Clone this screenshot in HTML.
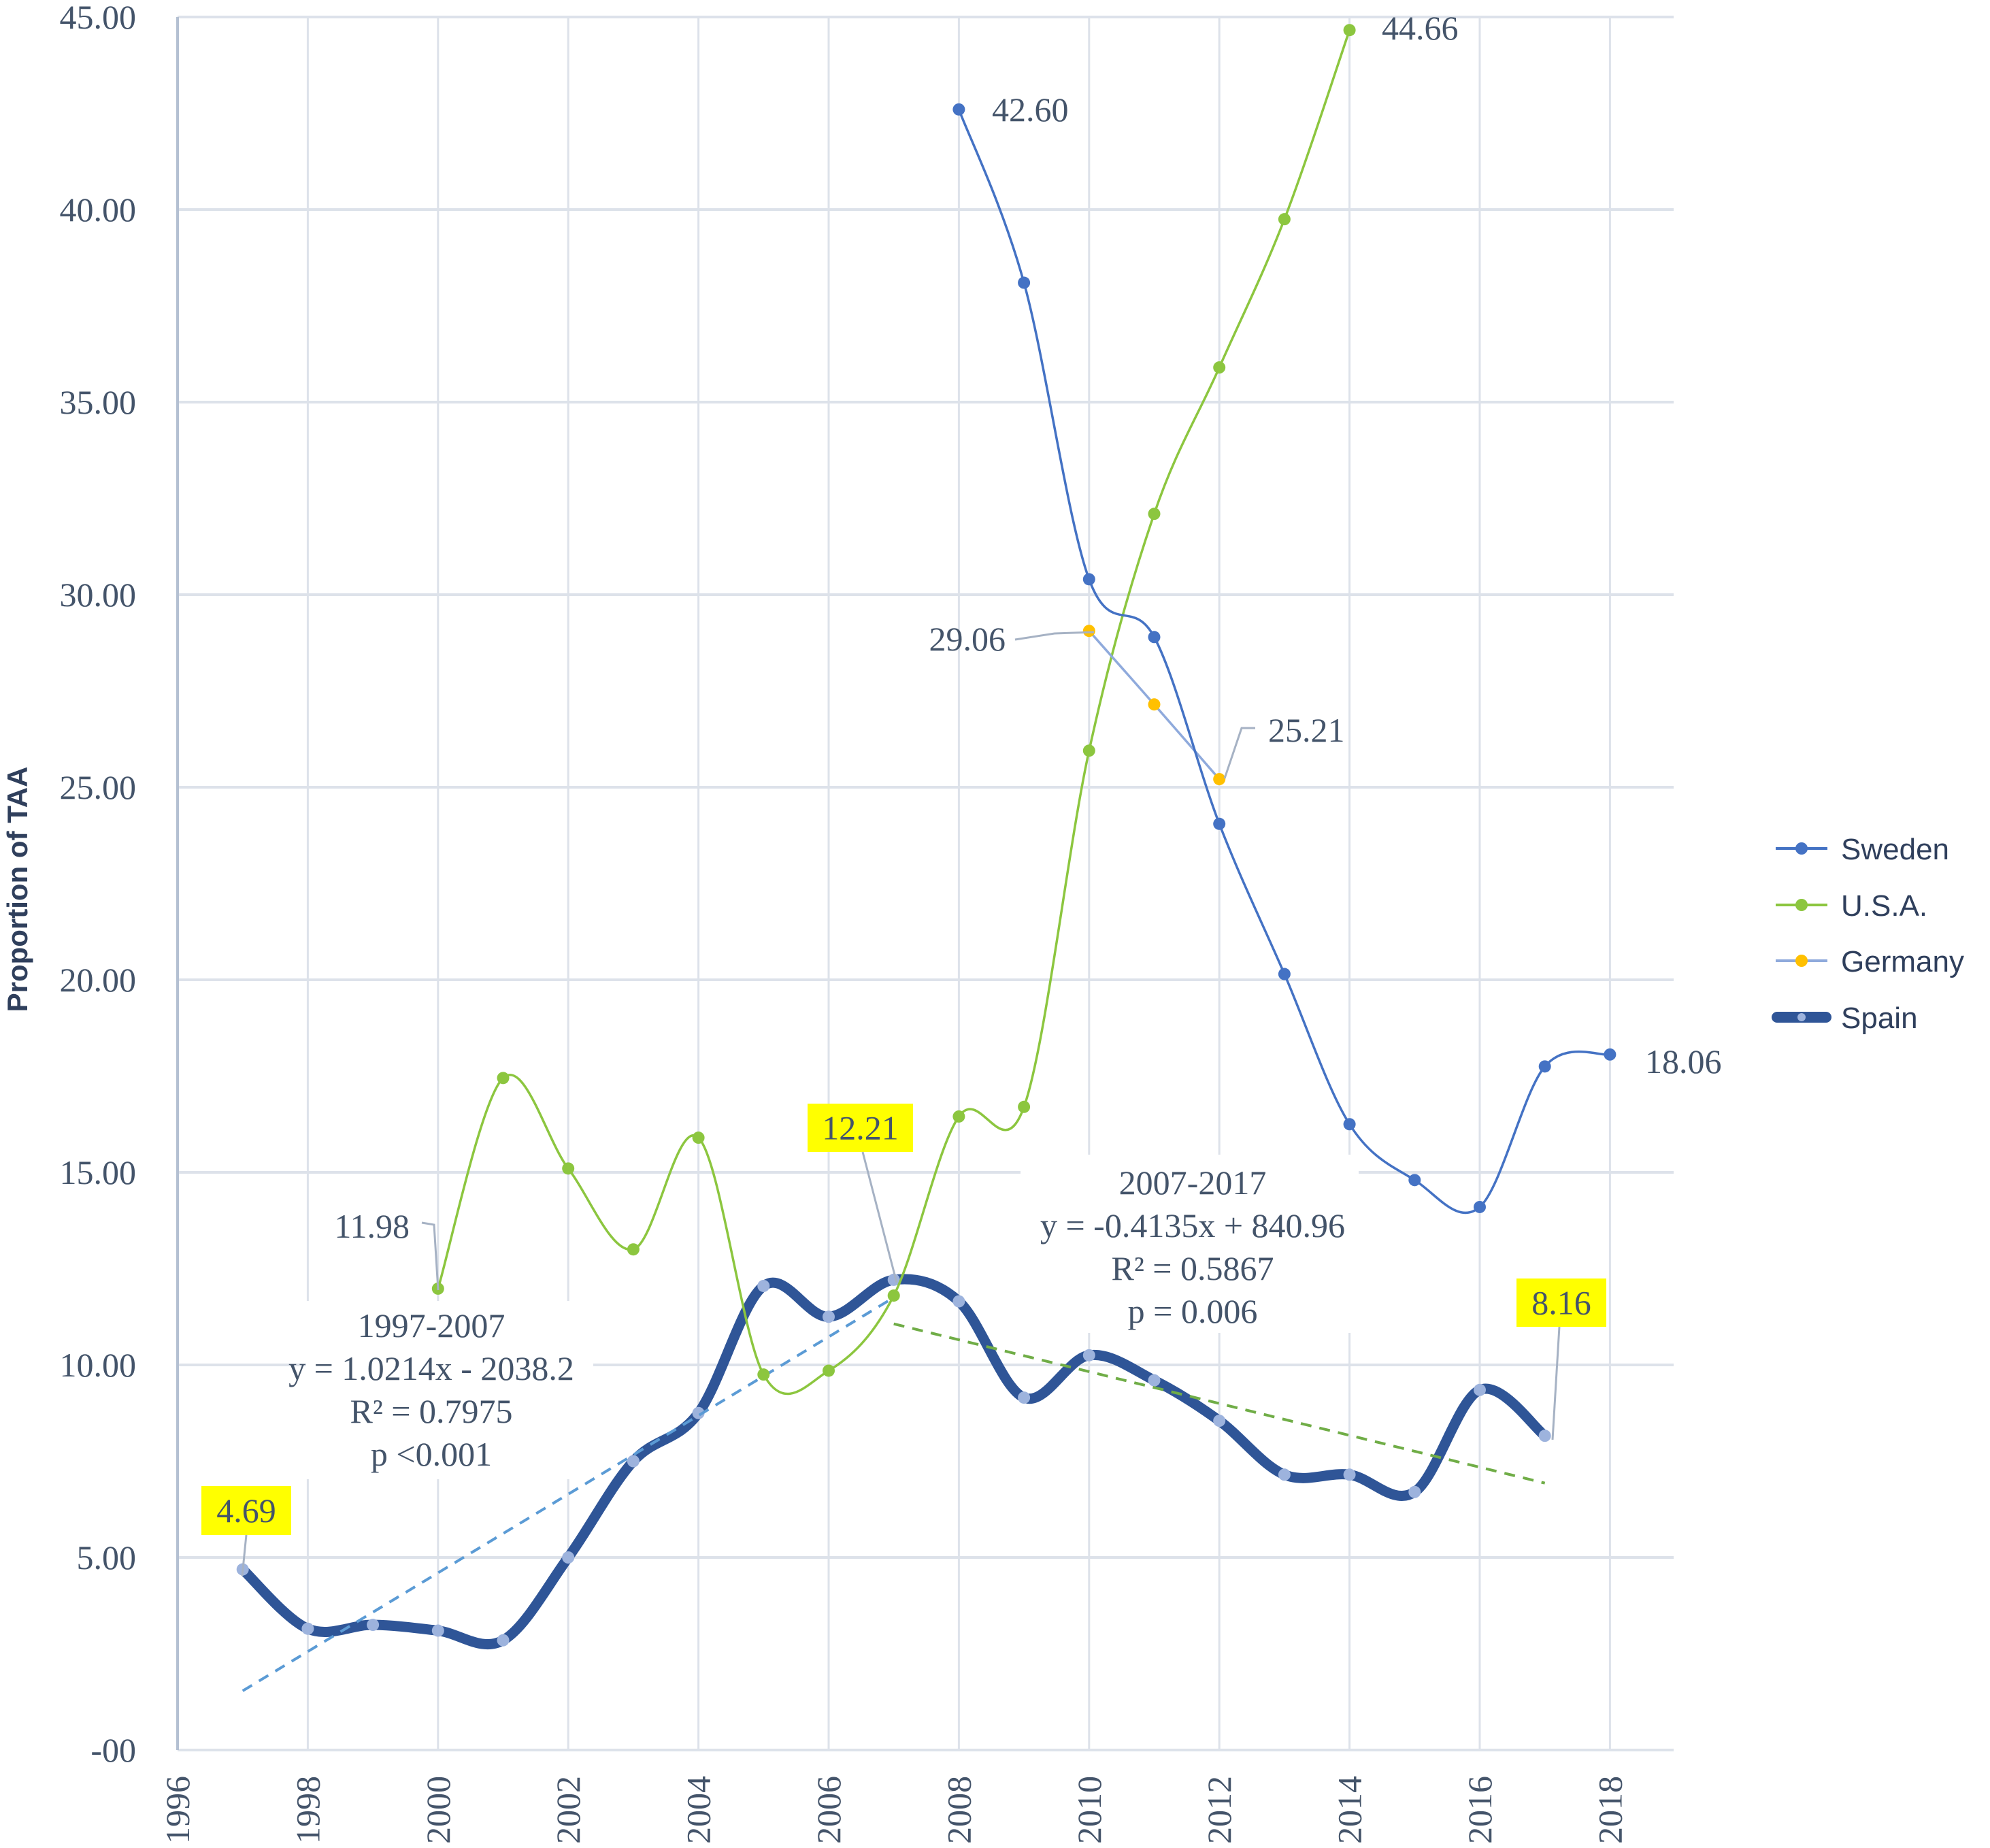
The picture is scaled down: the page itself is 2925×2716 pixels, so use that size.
<!DOCTYPE html>
<html><head><meta charset="utf-8">
<style>
html,body{margin:0;padding:0;background:#fff;}
svg{display:block;}
.tick{font-family:"Liberation Serif",serif;font-size:50px;fill:#44546a;}
.lbl{font-family:"Liberation Serif",serif;font-size:50px;fill:#44546a;}
.leg{font-family:"Liberation Sans",sans-serif;font-size:44px;fill:#2f3f5c;}
</style></head>
<body>
<svg id="chart" width="2925" height="2716" viewBox="0 0 2925 2716" xmlns="http://www.w3.org/2000/svg">
<rect width="2925" height="2716" fill="#fff"/>
<g id="grid"></g>
<g id="axes"></g>
<g id="boxes"></g>
<g id="series"></g>
<g id="labels"></g>
<g id="legend"></g>
<text transform="translate(40,1307) rotate(-90)" text-anchor="middle" font-family="Liberation Sans, sans-serif" font-weight="bold" font-size="42" fill="#2f3f5c">Proportion of TAA</text>
</svg>
<script>
const yTicks=[0,5,10,15,20,25,30,35,40,45];
const yTickLabels=["-00","5.00","10.00","15.00","20.00","25.00","30.00","35.00","40.00","45.00"];
const xTicks=[1996,1998,2000,2002,2004,2006,2008,2010,2012,2014,2016,2018];
const swedenYears=[2008,2009,2010,2011,2012,2013,2014,2015,2016,2017,2018];
const swedenValues=[42.60,38.1,30.4,28.9,24.05,20.15,16.25,14.8,14.1,17.75,18.06];
const usaYears=[2000,2001,2002,2003,2004,2005,2006,2007,2008,2009,2010,2011,2012,2013,2014];
const usaValues=[11.98,17.45,15.1,13.0,15.9,9.75,9.85,11.8,16.45,16.7,25.95,32.1,35.9,39.75,44.66];
const germanyYears=[2010,2011,2012];
const germanyValues=[29.06,27.15,25.21];
const spainYears=[1997,1998,1999,2000,2001,2002,2003,2004,2005,2006,2007,2008,2009,2010,2011,2012,2013,2014,2015,2016,2017];
const spainValues=[4.69,3.15,3.25,3.1,2.85,5.0,7.5,8.75,12.05,11.25,12.21,11.65,9.15,10.25,9.6,8.55,7.15,7.15,6.7,9.35,8.16];
const trend1=[1997,2007,1.0214,-2038.2];
const trend2=[2007,2017,-0.4135,840.96];

const NS="http://www.w3.org/2000/svg";
const X0=261,XS=95.7,Y0=2572,YS=56.6;
const xOf=y=>X0+(y-1996)*XS;
const yOf=v=>Y0-v*YS;
const PR=2460;
function mk(p,tag,a,txt){const e=document.createElementNS(NS,tag);for(const k in a)e.setAttribute(k,a[k]);if(txt!==undefined)e.textContent=txt;p.appendChild(e);return e;}
const G=id=>document.getElementById(id);

yTicks.forEach((t,i)=>{
  const l=mk(G('grid'),'line',{x1:X0,x2:PR,y1:yOf(t),y2:yOf(t),stroke:'#dde2ea','stroke-width':4});
  
  
  const tx=mk(G('axes'),'text',{x:200,y:yOf(t)+17,'text-anchor':'end',class:'tick'},yTickLabels[i]);
  
  
});
xTicks.forEach(t=>{
  const l=mk(G('grid'),'line',{x1:xOf(t),x2:xOf(t),y1:yOf(45),y2:Y0,stroke:'#dde2ea','stroke-width':3});
  
  
  const tx=mk(G('axes'),'text',{transform:`translate(${xOf(t)+17},2710) rotate(-90)`,'text-anchor':'start',class:'tick'},String(t));
  
  
});
mk(G('axes'),'line',{x1:X0,x2:X0,y1:yOf(45),y2:Y0,stroke:'#b4c0d2','stroke-width':4});

const b1=mk(G('boxes'),'rect',{x:450,y:1912,width:422,height:262,fill:'#fff'});


const b2=mk(G('boxes'),'rect',{x:1500,y:1697,width:497,height:262,fill:'#fff'});


[["1997-2007","y = 1.0214x  - 2038.2","R² = 0.7975","p <0.001",634,1965],["2007-2017","y = -0.4135x + 840.96","R² = 0.5867","p = 0.006",1753,1755]].forEach(r=>{
  for(let i=0;i<4;i++){const t=mk(G('boxes'),'text',{x:r[4],y:r[5]+i*63,'text-anchor':'middle',class:'lbl'},r[i]);
  
  }
});

function smooth(xs,vs){
  const p=xs.map((x,i)=>[xOf(x),yOf(vs[i])]);
  let d=`M${p[0][0]},${p[0][1]}`;
  for(let i=0;i<p.length-1;i++){
    const a=p[i-1]||p[i],b=p[i],c=p[i+1],e=p[i+2]||c,k=1/6;
    d+=` C${b[0]+(c[0]-a[0])*k},${b[1]+(c[1]-a[1])*k} ${c[0]-(e[0]-b[0])*k},${c[1]-(e[1]-b[1])*k} ${c[0]},${c[1]}`;
  }
  return d;
}
function series(name,xs,vs,color,w,mcol,mr){
  const g=mk(G('series'),'g',{});
  
  
  const p=mk(g,'path',{d:smooth(xs,vs),fill:'none',stroke:color,'stroke-width':w,'stroke-linecap':'round'});
  
  
  xs.forEach((x,i)=>{const c=mk(g,'circle',{cx:xOf(x),cy:yOf(vs[i]),r:mr,fill:mcol});
    
    });
}
function trend(t,color,name){
  const l=mk(G('series'),'line',{x1:xOf(t[0]),y1:yOf(t[2]*t[0]+t[3]),x2:xOf(t[1]),y2:yOf(t[2]*t[1]+t[3]),stroke:color,'stroke-width':4,'stroke-dasharray':'16,12'});
  
  
}
series('spain',spainYears,spainValues,'#2f5597',15,'#9db3dd',9);
trend(trend1,'#5b9bd5','trendline-1997-2007');
trend(trend2,'#70ad47','trendline-2007-2017');
series('usa',usaYears,usaValues,'#8cc63f',3.5,'#8cc63f',9);
series('germany',germanyYears,germanyValues,'#8faadc',3.5,'#ffc000',9);
series('sweden',swedenYears,swedenValues,'#4472c4',3.5,'#4472c4',9);

function lbl(txt,x,y,anchor,name){const t=mk(G('labels'),'text',{x:x,y:y,'text-anchor':anchor,class:'lbl'},txt);
  
  }
function lead(pts){mk(G('labels'),'polyline',{points:pts,fill:'none',stroke:'#a6b2c4','stroke-width':3});}
lbl('42.60',1458,178,'start','sweden-2008-label');
lbl('44.66',2031,58,'start','usa-2014-label');
lbl('18.06',2418,1577,'start','sweden-2018-label');
lbl('29.06',1478,956,'end','germany-2010-label');
lead('1492,940 1550,931 1608,929');
lbl('25.21',1864,1090,'start','germany-2012-label');
lead('1800,1144 1825,1070 1845,1070');
lbl('11.98',602,1819,'end','usa-2000-label');
lead('620,1797 638,1800 644,1896');
[['4.69',296,2184,132,72,'spain-1997-label','362,2256 356,2316'],['12.21',1187,1622,155,71,'spain-2007-label','1268,1693 1318,1885'],['8.16',2229,1879,132,71,'spain-2017-label','2292,1950 2282,2116']].forEach(b=>{
  lead(b[6]);
  const r=mk(G('labels'),'rect',{x:b[1],y:b[2],width:b[3],height:b[4],fill:'#ffff00'});
  
  
  lbl(b[0],b[1]+b[3]/2,b[2]+b[4]/2+17,'middle',b[5]);
});

[['Sweden','#4472c4','#4472c4',4,1247],['U.S.A.','#8cc63f','#8cc63f',4,1330],['Germany','#8faadc','#ffc000',4,1412],['Spain','#2f5597','#9db3dd',16,1495]].forEach(e=>{
  const g=mk(G('legend'),'g',{});
  
  
  mk(g,'line',{x1:e[3]>4?2612:2610,x2:e[3]>4?2684:2686,y1:e[4],y2:e[4],stroke:e[1],'stroke-width':e[3],'stroke-linecap':e[3]>4?'round':'butt'});
  mk(g,'circle',{cx:2648,cy:e[4],r:e[3]>4?6:9,fill:e[2]});
  mk(g,'text',{x:2706,y:e[4]+16,class:'leg'},e[0]);
});
</script>
</body></html>
